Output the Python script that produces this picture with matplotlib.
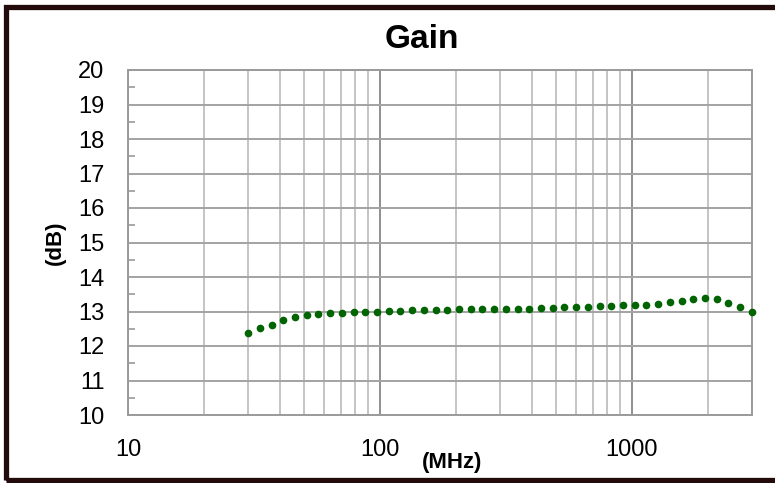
import numpy as np
import matplotlib.pyplot as plt
from matplotlib.patches import Rectangle
from matplotlib.ticker import LogLocator, FixedLocator, NullFormatter, MultipleLocator

plt.rcParams['font.family'] = ['Liberation Sans', 'DejaVu Sans']

# frecuencias (MHz) y ganancia (dB)
freq_mhz = [30, 33.4, 37.2, 41.4, 46.0, 51.2, 57.0, 63.5, 70.6, 78.6, 87.5,
            97.4, 108.4, 120.6, 134.3, 149.4, 166.3, 185.1, 206.1, 229.3, 255.2,
            284.1, 316.2, 351.9, 391.7, 436.0, 485.2, 540.0, 601.1, 669.0, 744.6,
            828.8, 922.4, 1026.7, 1142.7, 1271.8, 1415.5, 1575.5, 1753.5, 1951.8,
            2172.3, 2417.8, 2691.1, 2995.0]
gain_db = [12.39, 12.51, 12.62, 12.74, 12.83, 12.90, 12.94, 12.96, 12.97, 12.98,
           12.99, 13.00, 13.01, 13.02, 13.03, 13.04, 13.04, 13.05, 13.06, 13.07,
           13.08, 13.08, 13.07, 13.07, 13.08, 13.09, 13.10, 13.12, 13.13, 13.14,
           13.16, 13.17, 13.18, 13.19, 13.20, 13.23, 13.27, 13.31, 13.36, 13.38,
           13.35, 13.26, 13.14, 13.00]

x_ticks = [10, 100, 1000]
x_ticklabels = ['10', '100', '1000']
y_ticks = list(range(10, 21))

W, H = 775, 483
fig = plt.figure(figsize=(W / 100, H / 100), dpi=100)
ax = fig.add_axes([128 / W, (H - 415) / H, (752 - 128) / W, (415 - 70) / H])

ax.plot(freq_mhz, gain_db, linestyle='none', marker='o', ms=4.5,
        color='#006400', zorder=5, clip_on=False)

ax.set_xscale('log')
ax.set_xlim(10, 3000)
ax.set_ylim(10, 20)

ax.xaxis.set_major_locator(FixedLocator(x_ticks))
ax.set_xticklabels(x_ticklabels)
ax.xaxis.set_minor_locator(LogLocator(base=10, subs=np.arange(2, 10)))
ax.xaxis.set_minor_formatter(NullFormatter())
ax.set_yticks(y_ticks)
ax.yaxis.set_minor_locator(MultipleLocator(0.5))

# rejilla
ax.grid(True, which='major', axis='x', color='#8f8f8f', lw=1.4)
ax.grid(True, which='minor', axis='x', color='#c4c4c4', lw=1.4)
ax.grid(True, which='major', axis='y', color='#a3a3a3', lw=1.4)
ax.set_axisbelow(True)

ax.tick_params(axis='both', which='major', length=0, labelsize=17)
ax.tick_params(axis='y', which='major', pad=17)
ax.tick_params(axis='x', which='major', pad=17)
ax.tick_params(axis='x', which='minor', length=0)
ax.tick_params(axis='y', which='minor', direction='in', length=5,
               color='#9a9a9a', width=1.2)

for s in ax.spines.values():
    s.set_color('#9a9a9a')
    s.set_linewidth(1.4)

ax.text(0.519, -0.139, '(MHz)', transform=ax.transAxes, fontsize=16,
        fontweight='bold', ha='center', va='center')
ax.text(-0.117, 0.5, '(dB)', transform=ax.transAxes, fontsize=16,
        fontweight='bold', ha='center', va='center', rotation=90)

fig.text(422 / W, 1 - 39 / H, 'Gain', fontsize=24, fontweight='bold',
         ha='center', va='center')

# marco oscuro alrededor (el lado derecho queda fuera)
fig.patches.append(Rectangle((5.5 / W, (H - 479.5) / H), 800 / W, 473 / H,
                             transform=fig.transFigure, fill=False,
                             edgecolor='#230b0b', lw=3.8))

fig.savefig('out.png', dpi=100)
